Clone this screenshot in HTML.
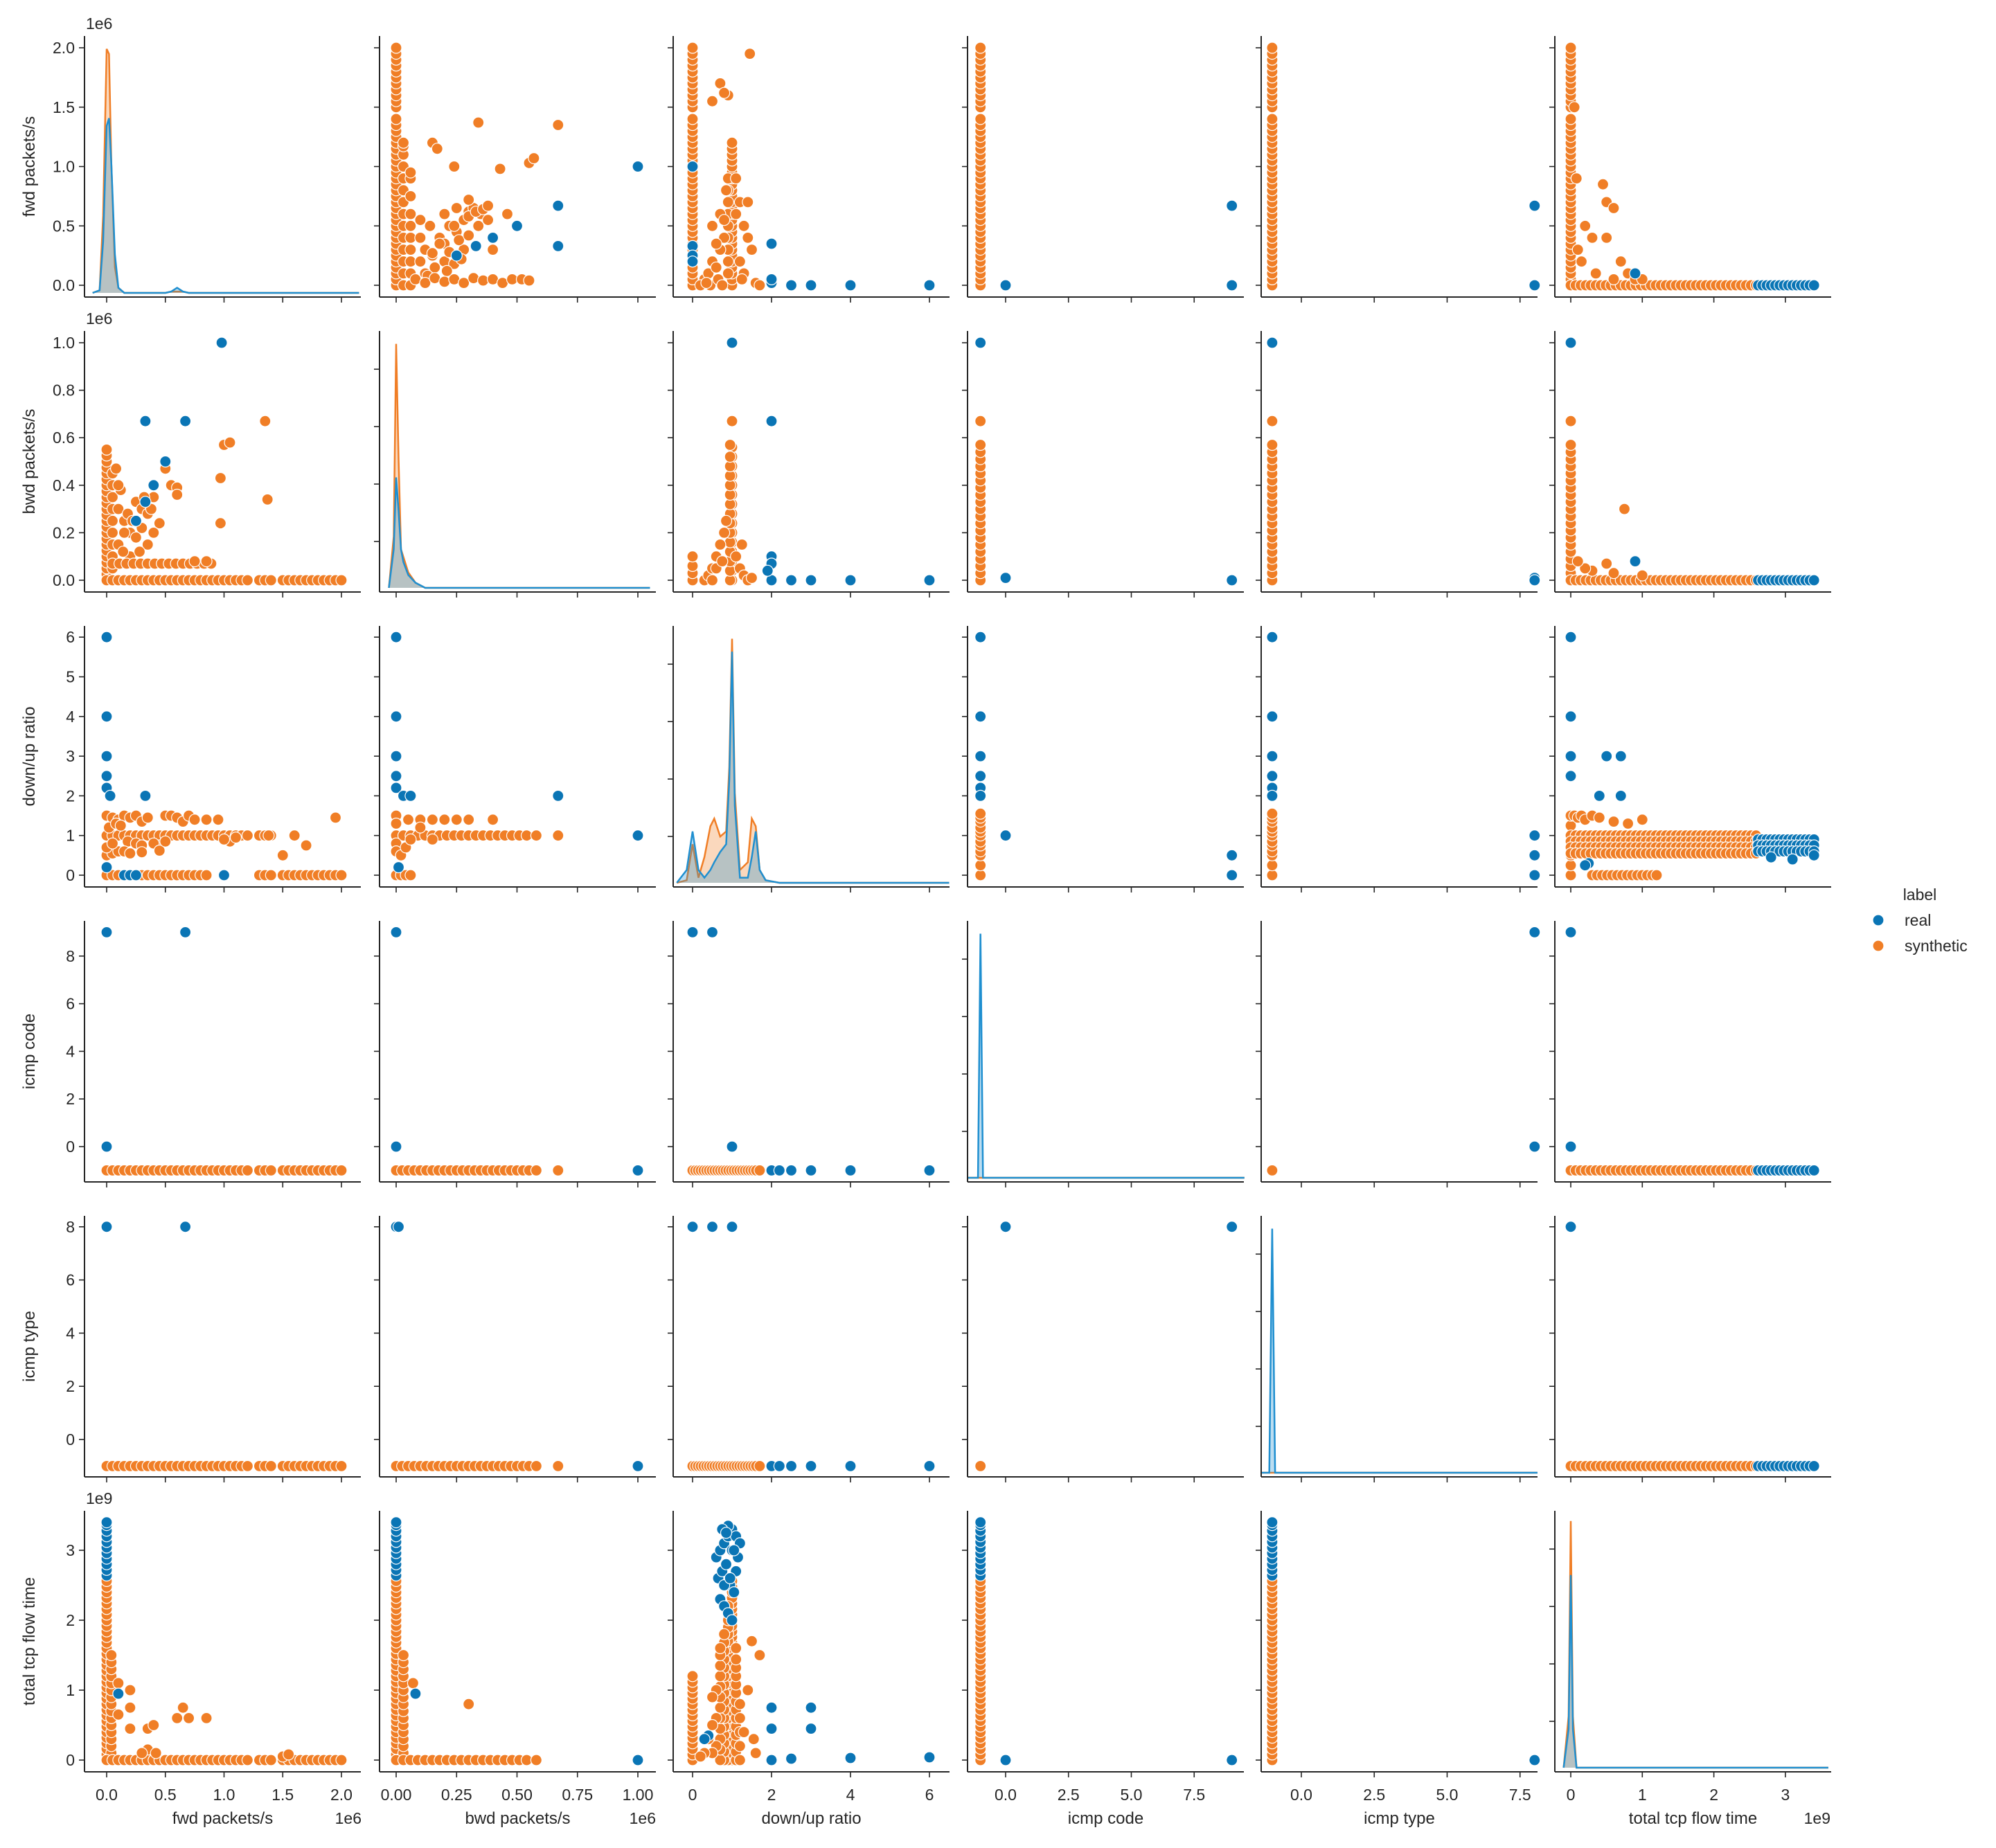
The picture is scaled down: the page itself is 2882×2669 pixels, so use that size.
<!DOCTYPE html>
<html><head><meta charset="utf-8"><style>
html,body{margin:0;padding:0;background:#fff;}
svg{display:block;font-family:"Liberation Sans","DejaVu Sans",sans-serif;}
</style></head><body>
<svg id="chart" width="2882" height="2669" viewBox="0 0 2882 2669" xmlns="http://www.w3.org/2000/svg">
<rect width="2882" height="2669" fill="#fff"/>
<g id="marks"></g>
<g id="axes"></g>
<g>
<text x="2772" y="1300" font-size="23" fill="#262626" text-anchor="middle">label</text>
<circle cx="2712" cy="1329" r="8" fill="#0a75b5" stroke="#fff" stroke-width="1.2"/>
<text x="2750" y="1337" font-size="23" fill="#262626">real</text>
<circle cx="2712" cy="1366" r="8" fill="#f07e26" stroke="#fff" stroke-width="1.2"/>
<text x="2750" y="1374" font-size="23" fill="#262626">synthetic</text>
</g>
</svg>
<script>
// ---------- data ----------
const varNames = ["fwd packets/s","bwd packets/s","down/up ratio","icmp code","icmp type","total tcp flow time"];
const xTicks = [[0,0.5,1,1.5,2],[0,0.25,0.5,0.75,1],[0,2,4,6],[0,2.5,5,7.5],[0,2.5,5,7.5],[0,1,2,3]];
const xTickLabels = [["0.0","0.5","1.0","1.5","2.0"],["0.00","0.25","0.50","0.75","1.00"],["0","2","4","6"],["0.0","2.5","5.0","7.5"],["0.0","2.5","5.0","7.5"],["0","1","2","3"]];
const yTicks = [[0,0.5,1,1.5,2],[0,0.2,0.4,0.6,0.8,1],[0,1,2,3,4,5,6],[0,2,4,6,8],[0,2,4,6,8],[0,1,2,3]];
const yTickLabels = [["0.0","0.5","1.0","1.5","2.0"],["0.0","0.2","0.4","0.6","0.8","1.0"],["0","1","2","3","4","5","6"],["0","2","4","6","8"],["0","2","4","6","8"],["0","1","2","3"]];

const stripFwd = [0,0.05,0.1,0.15,0.2,0.25,0.3,0.35,0.4,0.45,0.5,0.55,0.6,0.65,0.7,0.75,0.8,0.85,0.9,0.95,1,1.05,1.1,1.15,1.2,1.25,1.3,1.35,1.4,1.5,1.55,1.6,1.65,1.7,1.75,1.8,1.85,1.9,1.95,2.0];
const stripBwd = [0,0.03,0.06,0.09,0.12,0.15,0.18,0.21,0.24,0.27,0.3,0.33,0.36,0.39,0.42,0.45,0.48,0.51,0.54,0.57,0.67];
const stripBwdTall = [0,0.025,0.05,0.075,0.1,0.125,0.15,0.175,0.2,0.225,0.25,0.275,0.3,0.325,0.35,0.375,0.4,0.425,0.45,0.475,0.5,0.525,0.55];
const stripDU = [0,0.25,0.5,0.6,0.75,0.85,1,1.1,1.2,1.35,1.45,1.55];
const stripTcpSyn = [0,0.08,0.16,0.24,0.32,0.4,0.48,0.56,0.64,0.72,0.8,0.88,0.96,1.04,1.12,1.2,1.28,1.36,1.44,1.52,1.6,1.68,1.76,1.84,1.92,2.0,2.08,2.16,2.24,2.32,2.4,2.48,2.56];
const stripTcpReal = [2.64,2.72,2.8,2.88,2.96,3.04,3.12,3.2,3.28,3.36,3.4];
const bandFwdX = [0,0.05,0.1,0.15,0.2,0.25,0.3,0.35,0.4,0.45,0.5,0.55,0.6,0.65,0.7,0.75,0.8,0.85,0.9,0.95,1,1.05,1.1,1.15,1.2,1.3,1.35,1.4,1.5,1.55,1.6,1.65,1.7,1.75,1.8,1.85,1.9,1.95,2.0];
const bandBwdX = [0,0.025,0.05,0.075,0.1,0.125,0.15,0.175,0.2,0.225,0.25,0.275,0.3,0.325,0.35,0.375,0.4,0.425,0.45,0.475,0.5,0.525,0.55,0.58,0.67];
const bandDUX = [0,0.07,0.14,0.21,0.28,0.35,0.42,0.49,0.56,0.63,0.7,0.77,0.84,0.91,0.98,1.05,1.12,1.19,1.26,1.33,1.4,1.47,1.54,1.61,1.7];
const bandTcpSynX = [0,0.07,0.14,0.21,0.28,0.35,0.42,0.49,0.56,0.63,0.7,0.77,0.84,0.91,0.98,1.05,1.12,1.19,1.26,1.33,1.4,1.47,1.54,1.61,1.68,1.75,1.82,1.89,1.96,2.03,2.1,2.17,2.24,2.31,2.38,2.45,2.52,2.59];
const bandTcpRealX = [2.62,2.68,2.74,2.8,2.86,2.92,2.98,3.04,3.1,3.16,3.22,3.28,3.34,3.4];

const r1c2 = [{k:'s',x:0,y:stripFwd},{k:'s',x:0.03,y:[0,0.1,0.2,0.3,0.4,0.5,0.6,0.7,0.8,0.9,1.0,1.1,1.17,1.2]},{k:'s',x:0.06,y:[0,0.1,0.2,0.3,0.4,0.5,0.6,0.75,0.9,0.95]},
 {k:'s',x:[0.1,0.12,0.15,0.18,0.2,0.22,0.25,0.28,0.3,0.32,0.35,0.12,0.16,0.2,0.24,0.28,0.1,0.14,0.18,0.22,0.26,0.3,0.34,0.38,0.4,0.2,0.25,0.3,0.33,0.36,0.15,0.1,0.24,0.27,0.21,0.13],y:[0.2,0.3,0.25,0.4,0.35,0.5,0.45,0.55,0.62,0.65,0.6,0.1,0.15,0.2,0.18,0.3,0.4,0.5,0.35,0.28,0.38,0.42,0.5,0.55,0.3,0.6,0.65,0.58,0.62,0.64,0.27,0.55,0.5,0.22,0.12,0.08]},
 {k:'s',x:[0.08,0.12,0.16,0.2,0.24,0.28,0.32,0.36,0.4,0.44,0.48,0.52,0.55],y:[0.05,0.02,0.06,0.03,0.05,0.02,0.06,0.04,0.05,0.02,0.05,0.05,0.04]},
 {k:'s',x:[0.34,0.67,0.24,0.43,0.55,0.57,0.3,0.46,0.38,0.15,0.17],y:[1.37,1.35,1.0,0.98,1.03,1.07,0.72,0.6,0.67,1.2,1.15]},
 {k:'r',x:[1.0,0.67,0.67,0.5,0.4,0.33,0.25],y:[1.0,0.67,0.33,0.5,0.4,0.33,0.25]}];
const r1c3 = [{k:'s',x:0,y:stripFwd},{k:'s',x:1.0,y:[0,0.05,0.1,0.15,0.2,0.25,0.3,0.35,0.4,0.45,0.5,0.55,0.6,0.65,0.7,0.75,0.8,0.85,0.9,0.95,1,1.05,1.1,1.15,1.2]},{k:'s',x:0.9,y:[0.1,0.2,0.3,0.4,0.5,0.6,0.7,0.8,0.9]},
 {k:'s',x:[0.3,0.4,0.5,0.6,0.7,0.8,0.5,0.6,0.7,0.8,1.1,1.2,1.3,1.4,1.5,1.2,1.3,1.4,0.45,0.65,0.75,0.85,1.1,1.25,0.2,0.35,1.6,1.7],y:[0.05,0.1,0.2,0.15,0.3,0.4,0.5,0.35,0.6,0.55,0.6,0.7,0.5,0.7,0.3,0.2,0.1,0.4,0,0.05,0,0.8,0.9,0.05,0,0.02,0.02,0]},
 {k:'s',x:[1.45,0.7,0.9,0.5,0.8],y:[1.95,1.7,1.6,1.55,1.62]},
 {k:'r',x:[0,0,0,0,2,2,2.5,3,4,6,2],y:[1.0,0.33,0.25,0.2,0.35,0.02,0,0,0,0,0.05]}];
const r1c4 = [{k:'s',x:-1,y:stripFwd},{k:'r',x:[0,9,9],y:[0,0.67,0]}];
const r1c5 = [{k:'s',x:-1,y:stripFwd},{k:'r',x:[8,8],y:[0.67,0]}];
const r1c6 = [{k:'s',x:0,y:stripFwd},{k:'s',x:bandTcpSynX,y:0},
 {k:'s',x:[0.45,0.5,0.6,0.5,0.3,0.7,0.8,0.2,0.1,0.15,0.35,0.6,0.9,1.0,0.05,0.08],y:[0.85,0.7,0.65,0.4,0.4,0.2,0.1,0.5,0.3,0.2,0.1,0.05,0.05,0.05,1.5,0.9]},
 {k:'r',x:bandTcpRealX,y:0},{k:'r',x:[0.9],y:[0.1]}];

const r2c1 = [{k:'s',x:0,y:stripBwdTall},{k:'s',x:0.05,y:[0,0.05,0.1,0.15,0.2,0.25,0.3,0.35,0.4,0.45]},
 {k:'s',x:[0.1,0.15,0.2,0.25,0.3,0.35,0.4,0.1,0.15,0.2,0.25,0.3,0.35,0.4,0.12,0.18,0.22,0.28,0.32,0.38,0.45,0.5,0.55,0.6,0.6,0.08,0.1,0.14],y:[0.3,0.25,0.2,0.33,0.3,0.28,0.35,0.15,0.2,0.1,0.18,0.22,0.15,0.2,0.38,0.28,0.25,0.12,0.35,0.3,0.24,0.47,0.4,0.39,0.36,0.47,0.4,0.12]},
 {k:'s',x:[0.05,0.11,0.17,0.23,0.29,0.35,0.41,0.47,0.53,0.59,0.65,0.71,0.77,0.83,0.89],y:0.07},
 {k:'s',x:bandFwdX,y:0},
 {k:'s',x:[1.35,1.0,1.05,0.97,1.37,0.97,0.75,0.85],y:[0.67,0.57,0.58,0.43,0.34,0.24,0.08,0.08]},
 {k:'r',x:[0.98,0.33,0.67,0.5,0.4,0.33,0.25],y:[1.0,0.67,0.67,0.5,0.4,0.33,0.25]}];
const r2c3 = [{k:'s',x:0,y:[0,0.03,0.06,0.1]},{k:'s',x:1.0,y:[0,0.04,0.08,0.12,0.16,0.2,0.24,0.28,0.32,0.36,0.4,0.44,0.48,0.52,0.56,0.67]},{k:'s',x:0.95,y:[0,0.04,0.08,0.12,0.16,0.2,0.24,0.28,0.32,0.36,0.4,0.44,0.48,0.52,0.57]},
 {k:'s',x:[0.3,0.4,0.5,0.6,0.7,0.8,0.85,1.1,1.2,1.3,1.4,1.5,0.6,0.75,1.25,0.5],y:[0,0.02,0.05,0.1,0.15,0.2,0.25,0.1,0.05,0.02,0,0.01,0.05,0.08,0.15,0]},
 {k:'r',x:[1,2,2,2,2,2.5,3,4,6,1.9],y:[1.0,0.67,0.1,0.07,0,0,0,0,0,0.04]}];
const r2c4 = [{k:'s',x:-1,y:stripBwd},{k:'r',x:[-1,0,9],y:[1.0,0.01,0]}];
const r2c5 = [{k:'s',x:-1,y:stripBwd},{k:'r',x:[-1,8,8],y:[1.0,0.01,0]}];
const r2c6 = [{k:'s',x:0,y:stripBwd},{k:'s',x:bandTcpSynX,y:0},{k:'s',x:[0.75,0.5,0.3,0.2,0.6,1.0,0.1],y:[0.3,0.07,0.04,0.05,0.03,0.02,0.08]},
 {k:'r',x:bandTcpRealX,y:0},{k:'r',x:[0,0.9],y:[1.0,0.08]}];

const r3c1 = [{k:'s',x:[0,0.05,0.1,0.15,0.2,0.25,0.3,0.35,0.4,0.45,0.5,0.55,0.6,0.65,0.7,0.75,0.8,0.85,0.9,0.95,1,1.05,1.1,1.15,1.2,1.3,1.35,1.4],y:1},
 {k:'s',x:[0,0.05,0.1,0.15,0.2,0.25,0.3,0.35,0.4,0.45,0.5,0.55,0.6,0.65,0.7,0.75,0.8,0.85,1.3,1.35,1.4,1.5,1.55,1.6,1.65,1.7,1.75,1.8,1.85,1.9,1.95,2.0],y:0},
 {k:'s',x:[0,0.05,0.1,0.15,0.2,0.25,0.3,0.35,0.5,0.55,0.6,0.65,0.7,0.75,0.85,0.95,0.02,0.08,0.12,0.18,0.25,0.3,0.45,0.0,0.05,0.1,0.0,0.05,0.15,0.2,0.3,0.4,0.45,0.5,1.05,1.0,1.1],y:[1.5,1.45,1.4,1.5,1.45,1.5,1.35,1.45,1.5,1.5,1.45,1.35,1.5,1.4,1.4,1.4,1.2,1.3,1.25,0.85,0.8,0.75,0.75,0.5,0.55,0.6,0.7,0.8,0.6,0.55,0.58,0.8,0.62,0.85,0.85,0.9,0.95]},
 {k:'s',x:[1.6,1.7,1.5,1.95,1.38],y:[1,0.75,0.5,1.45,1]},
 {k:'r',x:[0,0,0,0,0,0.03,0.33,1.0,0.15,0.2,0.25,0],y:[6,4,3,2.5,2.2,2,2,0,0,0,0,0.2]}];
const r3c2 = [{k:'s',x:[0,0.03,0.06,0.09,0.12,0.15,0.18,0.21,0.24,0.27,0.3,0.33,0.36,0.39,0.42,0.45,0.48,0.51,0.54,0.58,0.67],y:1},
 {k:'s',x:[0.05,0.1,0.15,0.2,0.25,0.3,0.4],y:1.4},{k:'s',x:[0,0.02,0.04,0.06],y:0},
 {k:'s',x:[0,0,0,0,0.02,0.04,0.06,0.1,0.15],y:[1.5,1.3,0.8,0.6,0.5,0.7,0.9,1.2,0.9]},
 {k:'r',x:[0,0,0,0,0,0.03,0.06,0.67,1.0,0.01],y:[6,4,3,2.5,2.2,2,2,2,1,0.2]}];
const r3c4 = [{k:'s',x:-1,y:stripDU},{k:'r',x:[-1,-1,-1,-1,-1,-1,0,9,9],y:[6,4,3,2.5,2.2,2,1,0.5,0]}];
const r3c5 = [{k:'s',x:-1,y:stripDU},{k:'r',x:[-1,-1,-1,-1,-1,-1,8,8,8],y:[6,4,3,2.5,2.2,2,1,0.5,0]}];
const r3c6 = [{k:'s',x:0,y:[0,0.25,0.5,0.75,1,1.25,1.5]},
 {k:'s',x:bandTcpSynX,y:1},{k:'s',x:bandTcpSynX,y:0.85},{k:'s',x:bandTcpSynX,y:0.7},{k:'s',x:bandTcpSynX,y:0.55},
 {k:'s',x:[0.05,0.1,0.15,0.2,0.3,0.4,0.6,0.8,1.0],y:[1.5,1.45,1.5,1.4,1.5,1.45,1.35,1.3,1.4]},
 {k:'s',x:[0.3,0.37,0.44,0.51,0.58,0.65,0.72,0.79,0.86,0.93,1.0,1.07,1.14,1.2],y:0},
 {k:'r',x:bandTcpRealX,y:0.9},{k:'r',x:bandTcpRealX,y:0.75},{k:'r',x:bandTcpRealX,y:0.6},
 {k:'r',x:[0,0,0,0,0.5,0.7,0.4,0.7,0.25,0.2,3.4,2.8,3.1],y:[6,4,3,2.5,3,3,2,2,0.3,0.25,0.5,0.45,0.4]}];

const r4c1 = [{k:'s',x:bandFwdX,y:-1},{k:'r',x:[0,0.67,0],y:[9,9,0]}];
const r4c2 = [{k:'s',x:bandBwdX,y:-1},{k:'r',x:[0,0,1.0],y:[9,0,-1]}];
const r4c3 = [{k:'s',x:bandDUX,y:-1},{k:'r',x:[0,0.5,1,2,2.2,2.5,3,4,6],y:[9,9,0,-1,-1,-1,-1,-1,-1]}];
const r4c5 = [{k:'s',x:[-1],y:[-1]},{k:'r',x:[8,8],y:[9,0]}];
const r4c6 = [{k:'s',x:bandTcpSynX,y:-1},{k:'r',x:bandTcpRealX,y:-1},{k:'r',x:[0,0],y:[9,0]}];

const r5c1 = [{k:'s',x:bandFwdX,y:-1},{k:'r',x:[0,0.67],y:[8,8]}];
const r5c2 = [{k:'s',x:bandBwdX,y:-1},{k:'r',x:[0,0.01,1.0],y:[8,8,-1]}];
const r5c3 = [{k:'s',x:bandDUX,y:-1},{k:'r',x:[0,0.5,1,2,2.2,2.5,3,4,6],y:[8,8,8,-1,-1,-1,-1,-1,-1]}];
const r5c4 = [{k:'s',x:[-1],y:[-1]},{k:'r',x:[0,9],y:[8,8]}];
const r5c6 = [{k:'s',x:bandTcpSynX,y:-1},{k:'r',x:bandTcpRealX,y:-1},{k:'r',x:[0],y:[8]}];

const r6c1 = [{k:'s',x:0,y:stripTcpSyn},{k:'s',x:0.04,y:[0,0.1,0.2,0.3,0.4,0.5,0.6,0.7,0.8,0.9,1.0,1.1,1.2,1.3,1.4,1.5]},{k:'s',x:bandFwdX,y:0},
 {k:'s',x:[0.1,0.2,0.2,0.1,0.2,0.35,0.4,0.6,0.65,0.7,0.85,0.35,0.3,0.42,1.5,1.55],y:[1.1,1.0,0.75,0.65,0.45,0.45,0.5,0.6,0.75,0.6,0.6,0.15,0.1,0.1,0.05,0.08]},
 {k:'r',x:0,y:stripTcpReal},{k:'r',x:[0.1],y:[0.95]}];
const r6c2 = [{k:'s',x:0,y:stripTcpSyn},{k:'s',x:0.03,y:[0,0.1,0.2,0.3,0.4,0.5,0.6,0.7,0.8,0.9,1.0,1.1,1.2,1.3,1.4,1.5]},
 {k:'s',x:[0,0.03,0.06,0.09,0.12,0.15,0.18,0.21,0.24,0.27,0.3,0.33,0.36,0.39,0.42,0.45,0.48,0.51,0.54,0.58],y:0},
 {k:'s',x:[0.3,0.07],y:[0.8,1.1]},
 {k:'r',x:0,y:stripTcpReal},{k:'r',x:[0.08,1.0],y:[0.95,0]}];
const r6c3 = [{k:'s',x:0,y:[0,0.08,0.16,0.24,0.32,0.4,0.48,0.56,0.64,0.72,0.8,0.88,0.96,1.04,1.12,1.2]},
 {k:'s',x:1.0,y:stripTcpSyn},{k:'s',x:0.9,y:[0,0.1,0.2,0.3,0.4,0.5,0.6,0.7,0.8,0.9,1.0,1.1,1.2,1.3,1.4,1.5,1.6,1.7,1.8,1.9,2.0,2.1,2.2]},
 {k:'s',x:0.8,y:[0,0.12,0.24,0.36,0.48,0.6,0.72,0.84,0.96,1.08,1.2,1.32,1.44,1.56,1.68,1.8]},
 {k:'s',x:0.7,y:[0,0.15,0.3,0.45,0.6,0.75,0.9,1.05,1.2,1.35,1.5,1.6]},
 {k:'s',x:[0.6,0.6,0.6,0.5,0.5,0.5,0.4,0.3,0.2],y:[0.2,0.6,1.0,0.1,0.5,0.9,0.3,0.1,0.05]},
 {k:'s',x:1.1,y:[0,0.12,0.24,0.36,0.48,0.6,0.72,0.84,0.96,1.08,1.2,1.32,1.44,1.6]},
 {k:'s',x:1.2,y:[0,0.2,0.4,0.6,0.8]},
 {k:'s',x:[1.7,1.5,1.4,1.55,1.6,1.3],y:[1.5,1.7,1.0,0.3,0.1,0.4]},
 {k:'r',x:[0.6,0.7,0.8,0.9,1.0,1.1,1.2,0.65,0.75,0.85,0.95,1.05,1.15,0.7,0.8,0.9,1.0,1.1,0.8,0.9,1.0,0.75,0.85,0.95,1.05],y:[2.9,3.0,3.1,3.2,3.3,3.2,3.1,2.6,2.7,2.8,2.5,2.4,2.9,2.3,2.2,2.1,2.0,2.7,2.5,3.35,3.0,3.3,3.25,2.6,3.0]},
 {k:'r',x:[2,2,3,3,2,2.5,4,6,0.4,0.3],y:[0.75,0.45,0.75,0.45,0,0.02,0.03,0.04,0.35,0.3]}];
const r6c4 = [{k:'s',x:-1,y:stripTcpSyn},{k:'r',x:-1,y:stripTcpReal},{k:'r',x:[0,9],y:[0,0]}];
const r6c5 = [{k:'s',x:-1,y:stripTcpSyn},{k:'r',x:-1,y:stripTcpReal},{k:'r',x:[8],y:[0]}];

// diagonal KDE: x grid (data units), density as fraction of axes height
const kdeX1 = [-0.12,-0.06,-0.03,0,0.02,0.04,0.07,0.1,0.15,0.5,0.55,0.6,0.65,0.7,1.0,2.0,2.15];
const kdeS1 = [0,0.01,0.3,0.95,0.93,0.5,0.1,0.02,0,0,0.005,0.005,0.005,0,0,0,0];
const kdeR1 = [0,0.01,0.2,0.65,0.68,0.5,0.15,0.02,0,0,0.005,0.02,0.005,0,0,0,0];
const kdeX2 = [-0.03,-0.01,0,0.01,0.02,0.03,0.05,0.08,0.12,0.2,1.05];
const kdeS2 = [0,0.2,0.95,0.5,0.15,0.12,0.06,0.02,0,0,0];
const kdeR2 = [0,0.15,0.43,0.3,0.15,0.1,0.05,0.02,0,0,0];
const kdeX3 = [-0.4,-0.15,0,0.15,0.3,0.45,0.55,0.7,0.85,0.93,1.0,1.07,1.2,1.4,1.5,1.6,1.7,1.85,2.2,6.5];
const kdeS3 = [0,0.01,0.15,0.02,0.1,0.22,0.25,0.18,0.2,0.45,0.95,0.35,0.05,0.08,0.25,0.22,0.05,0.01,0,0];
const kdeR3 = [0,0.05,0.2,0.05,0.02,0.05,0.08,0.12,0.15,0.4,0.9,0.3,0.02,0.02,0.1,0.2,0.05,0.01,0,0];
const kdeX4 = [-1.5,-1.1,-1,-0.9,-0.8,9.5];
const kdeS4 = [0,0,0,0,0,0];
const kdeR4 = [0,0,0.95,0,0,0];
const kdeX5 = [-1.4,-1.1,-1,-0.9,-0.8,8.1];
const kdeS5 = [0,0,0,0,0,0];
const kdeR5 = [0,0,0.95,0,0,0];
const kdeX6 = [-0.1,-0.03,0,0.03,0.08,3.45,3.6];
const kdeS6 = [0,0.2,0.96,0.2,0,0,0];
const kdeR6 = [0,0.15,0.75,0.15,0,0,0];

// ---------- axis functions ----------
const NS = "http://www.w3.org/2000/svg";
const PL = [122,548,972,1397,1821,2245], PT = [52,478,904,1330,1756,2182], PW = 399, PH = 377;
const COLX = [[154,169.5],[572,349],[1000,57],[1452,36.3],[1879,42.1],[2268,103.3]];
const ROWY = [[412,171.5],[838,343],[1264,57.3],[1656,34.4],[2079,38.4],[2542,101]];
const COLORS = {s:'#f07e26', r:'#0a75b5'};
function px(c,v){return COLX[c][0]+COLX[c][1]*v;}
function py(r,v){return ROWY[r][0]-ROWY[r][1]*v;}
function mk(tag,attrs,parent){const e=document.createElementNS(NS,tag);for(const k in attrs)e.setAttribute(k,attrs[k]);parent.appendChild(e);return e;}
const marks=document.getElementById('marks'), axes=document.getElementById('axes');

const panels = [[0,1,r1c2],[0,2,r1c3],[0,3,r1c4],[0,4,r1c5],[0,5,r1c6],
 [1,0,r2c1],[1,2,r2c3],[1,3,r2c4],[1,4,r2c5],[1,5,r2c6],
 [2,0,r3c1],[2,1,r3c2],[2,3,r3c4],[2,4,r3c5],[2,5,r3c6],
 [3,0,r4c1],[3,1,r4c2],[3,2,r4c3],[3,4,r4c5],[3,5,r4c6],
 [4,0,r5c1],[4,1,r5c2],[4,2,r5c3],[4,3,r5c4],[4,5,r5c6],
 [5,0,r6c1],[5,1,r6c2],[5,2,r6c3],[5,3,r6c4],[5,4,r6c5]];

panels.forEach(([r,c,groups])=>{
  const g=mk('g',{},marks);
  
  
  ['s','r'].forEach(key=>{
    groups.filter(gr=>gr.k===key).forEach(gr=>{
      const n=Array.isArray(gr.x)?gr.x.length:gr.y.length;
      for(let i=0;i<n;i++){
        const xv=Array.isArray(gr.x)?gr.x[i]:gr.x, yv=Array.isArray(gr.y)?gr.y[i]:gr.y;
        const ci=mk('circle',{cx:px(c,xv).toFixed(1),cy:py(r,yv).toFixed(1),r:8,fill:COLORS[key],stroke:'#fff','stroke-width':1.2},g);
        
        
      }
    });
  });
});

// diagonals
const kdes=[[kdeX1,kdeS1,kdeR1],[kdeX2,kdeS2,kdeR2],[kdeX3,kdeS3,kdeR3],[kdeX4,kdeS4,kdeR4],[kdeX5,kdeS5,kdeR5],[kdeX6,kdeS6,kdeR6]];
kdes.forEach(([xs,sd,rd],i)=>{
  const g=mk('g',{},marks);
  
  
  const base=PT[i]+PH-6;
  [[sd,'#f07e26','kde-synthetic'],[rd,'#1f8fd0','kde-real']].forEach(([d,col,nm])=>{
    let pts=xs.map((x,j)=>px(i,x).toFixed(1)+','+(base-d[j]*(PH-6)).toFixed(1));
    const area=mk('polygon',{points:px(i,xs[0]).toFixed(1)+','+base+' '+pts.join(' ')+' '+px(i,xs[xs.length-1]).toFixed(1)+','+base,fill:col,'fill-opacity':0.3,stroke:'none'},g);
    
    
    const ln=mk('polyline',{points:pts.join(' '),fill:'none',stroke:col,'stroke-width':2.5},g);
    
    
  });
});

// axes
for(let r=0;r<6;r++){for(let c=0;c<6;c++){
  const g=mk('g',{},axes);
  
  
  const L=PL[c],T=PT[r],B=T+PH,R=L+PW;
  mk('line',{x1:L,y1:T,x2:L,y2:B,stroke:'#262626','stroke-width':2},g);
  mk('line',{x1:L,y1:B,x2:R,y2:B,stroke:'#262626','stroke-width':2},g);
  xTicks[c].forEach((t,j)=>{
    const x=px(c,t);
    mk('line',{x1:x,y1:B,x2:x,y2:B+8,stroke:'#262626','stroke-width':1.6},g);
    if(r===5){const tx=mk('text',{x:x,y:2600,'font-size':23,fill:'#262626','text-anchor':'middle'},g);tx.textContent=xTickLabels[c][j];
      
      }
  });
  if(c!==r||c===0){
    yTicks[r].forEach((t,j)=>{
      const y=py(r,t);
      mk('line',{x1:L-8,y1:y,x2:L,y2:y,stroke:'#262626','stroke-width':1.6},g);
      if(c===0){const tx=mk('text',{x:108,y:y+8,'font-size':23,fill:'#262626','text-anchor':'end'},g);tx.textContent=yTickLabels[r][j];
        
        }
    });
  } else {
    [0.2,0.4,0.6,0.8].forEach(f=>{const y=B-f*PH*1.1+10;mk('line',{x1:L-8,y1:y,x2:L,y2:y,stroke:'#262626','stroke-width':1.6},g);});
  }
}}
// axis labels
varNames.forEach((n,i)=>{
  const xl=mk('text',{x:PL[i]+PW/2,y:2634,'font-size':24,fill:'#262626','text-anchor':'middle'},axes);xl.textContent=n;
  
  
  const cy=PT[i]+PH/2;
  const yl=mk('text',{x:0,y:0,'font-size':24,fill:'#262626','text-anchor':'middle',transform:'translate(50,'+cy+') rotate(-90)'},axes);yl.textContent=n;
  
  
});
// offset texts
[[124,42,'1e6','start'],[124,468,'1e6','start'],[124,2172,'1e9','start'],[522,2634,'1e6','end'],[947,2634,'1e6','end'],[2643,2634,'1e9','end']].forEach(([x,y,t,a])=>{
  const o=mk('text',{x:x,y:y,'font-size':23,fill:'#262626','text-anchor':a},axes);o.textContent=t;
  
  
});
</script>
</body></html>
